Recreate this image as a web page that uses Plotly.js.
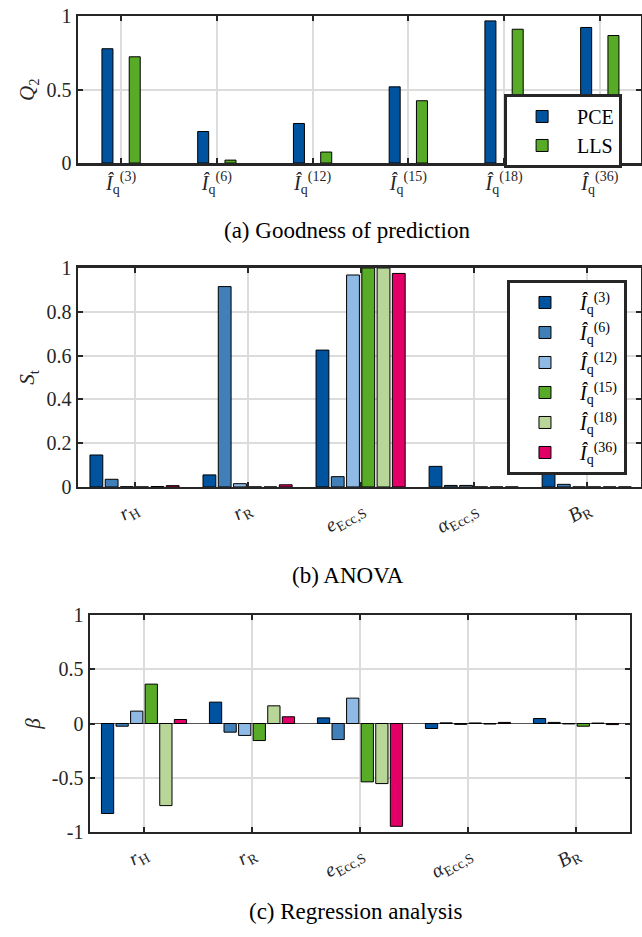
<!DOCTYPE html>
<html>
<head>
<meta charset="utf-8">
<script src="https://cdn.plot.ly/plotly-3.0.1.min.js"></script>
<style>html,body{margin:0;padding:0;background:#fff;}#chart{width:642px;height:937px;}</style>
</head>
<body>
<div id="chart"></div>
<script>
// ---- Data ----
const modelCats = [
  '<i>Î</i><sub>q</sub><sup>(3)</sup>',
  '<i>Î</i><sub>q</sub><sup>(6)</sup>',
  '<i>Î</i><sub>q</sub><sup>(12)</sup>',
  '<i>Î</i><sub>q</sub><sup>(15)</sup>',
  '<i>Î</i><sub>q</sub><sup>(18)</sup>',
  '<i>Î</i><sub>q</sub><sup>(36)</sup>'
];
const q2PCE = [0.78, 0.215, 0.27, 0.52, 0.97, 0.925];
const q2LLS = [0.725, 0.02, 0.075, 0.425, 0.913, 0.87];

const paramCats = [
  '<i>r</i><sub>H</sub>',
  '<i>r</i><sub>R</sub>',
  '<i>e</i><sub>Ecc,S</sub>',
  '<i>α</i><sub>Ecc,S</sub>',
  '<i>B</i><sub>R</sub>'
];
const seriesNames = modelCats;

// ANOVA total Sobol indices S_t
const stI3  = [0.146, 0.055, 0.625, 0.094, 0.10];
const stI6  = [0.035, 0.915, 0.047, 0.007, 0.012];
const stI12 = [0.001, 0.015, 0.968, 0.007, 0.0];
const stI15 = [0.0,   0.0,   1.0,   0.0,   0.0];
const stI18 = [0.002, 0.0,   1.0,   0.0,   0.0];
const stI36 = [0.006, 0.01,  0.975, 0.0,   0.0];

// Regression coefficients beta
const bI3  = [-0.83,  0.197,  0.052, -0.046,  0.046];
const bI6  = [-0.025, -0.08, -0.148,  0.006,  0.01];
const bI12 = [0.114, -0.11,   0.234, -0.008, -0.004];
const bI15 = [0.363, -0.157, -0.538,  0.005, -0.025];
const bI18 = [-0.757, 0.163, -0.554, -0.005,  0.004];
const bI36 = [0.037,  0.062, -0.948,  0.01,  -0.01];

const yTicksTop = [0, 0.5, 1];
const yTicksMid = [0, 0.2, 0.4, 0.6, 0.8, 1];
const yTicksBot = [-1, -0.5, 0, 0.5, 1];
const yTextBot = ['-1', '-0.5', '0', '0.5', '1'];

// ---- Styles ----
const colors = ['#00549F', '#407FB7', '#8EBAE5', '#57AB27', '#B8D698', '#E30066'];
const axisCol = '#262626';
const gridCol = '#dcdcdc';
const fontFam = '"Liberation Serif", "Times New Roman", serif';

const stSeries = [stI3, stI6, stI12, stI15, stI18, stI36];
const bSeries = [bI3, bI6, bI12, bI15, bI18, bI36];

const traces = [];
traces.push({type:'bar', x:modelCats, y:q2PCE, name:'PCE', xaxis:'x', yaxis:'y', legend:'legend',
  width:0.115, offset:-0.2, marker:{color:colors[0], line:{color:'#000', width:1}}});
traces.push({type:'bar', x:modelCats, y:q2LLS, name:'LLS', xaxis:'x', yaxis:'y', legend:'legend',
  width:0.115, offset:0.085, marker:{color:colors[3], line:{color:'#000', width:1}}});
stSeries.forEach((s, i) => traces.push({type:'bar', x:paramCats, y:s, name:seriesNames[i],
  xaxis:'x2', yaxis:'y2', legend:'legend2', legendgroup:'g'+i,
  marker:{color:colors[i], line:{color:'#000', width:1}}}));
bSeries.forEach((s, i) => traces.push({type:'bar', x:paramCats, y:s, name:seriesNames[i],
  xaxis:'x3', yaxis:'y3', legendgroup:'g'+i, showlegend:false,
  marker:{color:colors[i], line:{color:'#000', width:1}}}));

function xax(domain, range, anchor, angle) {
  return {domain:domain, range:range, anchor:anchor, type:'category',
    showgrid:true, gridcolor:gridCol, gridwidth:2, zeroline:false,
    showline:true, mirror:'ticks', linecolor:axisCol, linewidth:2.5,
    ticks:'inside', ticklen:5, tickwidth:2, tickcolor:axisCol,
    tickangle:angle, tickfont:{family:fontFam, size:20, color:axisCol}, automargin:false};
}
function yax(domain, range, anchor, tv, tt, title, zl) {
  return {domain:domain, range:range, anchor:anchor, tickvals:tv, ticktext:tt,
    showgrid:true, gridcolor:gridCol, gridwidth:2, zeroline:zl, zerolinecolor:'#555', zerolinewidth:1,
    showline:true, mirror:'ticks', linecolor:axisCol, linewidth:2.5,
    ticks:'inside', ticklen:5, tickwidth:2, tickcolor:axisCol,
    tickfont:{family:fontFam, size:20, color:axisCol},
    title:{text:title, font:{family:fontFam, size:21, color:axisCol}, standoff:6}, automargin:false};
}

const layout = {
  width:642, height:937, margin:{l:0, r:0, t:0, b:0},
  paper_bgcolor:'#fff', plot_bgcolor:'#fff',
  font:{family:fontFam, size:18, color:axisCol},
  barmode:'group', bargap:0.19, bargroupgap:0.16,
  xaxis: xax([0.1215, 0.9984], [-0.45, 5.43], 'y', 0),
  yaxis: yax([0.826, 0.9824], [0, 1], 'x', yTicksTop, yTicksTop.map(String), '<i>Q</i><sub>2</sub>', false),
  xaxis2: xax([0.1215, 0.9984], [-0.5, 4.48], 'y2', -30),
  yaxis2: yax([0.4803, 0.714], [0, 1], 'x2', yTicksMid, yTicksMid.map(String), '<i>S</i><sub>t</sub>', false),
  xaxis3: xax([0.1402, 0.9813], [-0.5, 4.5], 'y3', -30),
  yaxis3: yax([0.1121, 0.3436], [-1, 1], 'x3', yTicksBot, yTextBot, '<i>β</i>', true),
  legend:{x:0.969, xanchor:'right', y:0.8997, yanchor:'top', bgcolor:'#fff',
    bordercolor:axisCol, borderwidth:3, font:{family:fontFam, size:20, color:'#000'},
    itemwidth:60, tracegroupgap:0},
  legend2:{x:0.9766, xanchor:'right', y:0.7012, yanchor:'top', bgcolor:'#fff',
    bordercolor:axisCol, borderwidth:3, font:{family:fontFam, size:20, color:'#000'},
    itemwidth:60, tracegroupgap:1},
  annotations:[
    {text:'(a) Goodness of prediction', xref:'paper', yref:'paper', x:0.5405, y:0.7535,
     xanchor:'center', yanchor:'middle', showarrow:false, font:{family:fontFam, size:23, color:'#000'}},
    {text:'(b) ANOVA', xref:'paper', yref:'paper', x:0.5425, y:0.3853,
     xanchor:'center', yanchor:'middle', showarrow:false, font:{family:fontFam, size:23, color:'#000'}},
    {text:'(c) Regression analysis', xref:'paper', yref:'paper', x:0.5530, y:0.0267,
     xanchor:'center', yanchor:'middle', showarrow:false, font:{family:fontFam, size:23, color:'#000'}}
  ]
};

Plotly.newPlot('chart', traces, layout, {staticPlot:true, displayModeBar:false});
</script>
</body>
</html>
